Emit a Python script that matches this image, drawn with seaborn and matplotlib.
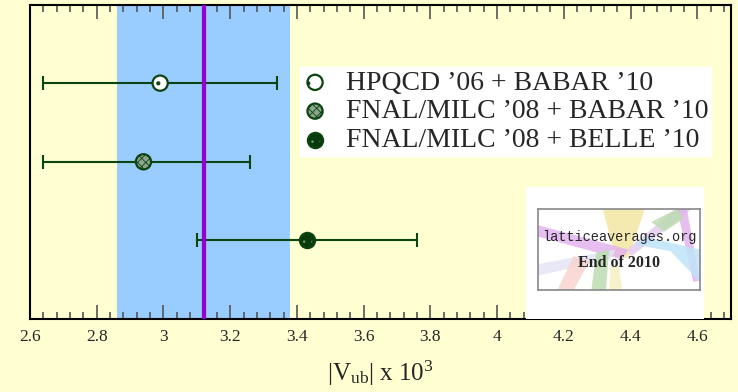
import numpy as np
import seaborn as sns
import matplotlib.pyplot as plt
from matplotlib.patches import Rectangle, Polygon
from matplotlib.ticker import MultipleLocator, FormatStrFormatter
from matplotlib.legend_handler import HandlerTuple

# data
labels = ["HPQCD \u201906 + BABAR \u201910",
          "FNAL/MILC \u201908 + BABAR \u201910",
          "FNAL/MILC \u201908 + BELLE \u201910"]
vub = [2.99, 2.94, 3.43]
err_lo = [0.35, 0.30, 0.33]
err_hi = [0.35, 0.32, 0.33]
rows = [3, 2, 1]
avg = 3.12
avg_lo = 2.86
avg_hi = 3.38

bg = '#ffffd2'
green = '#0b4410'

sns.set_theme(style='ticks', rc={'axes.facecolor': bg, 'figure.facecolor': bg,
                                 'axes.edgecolor': 'black', 'axes.linewidth': 1.5,
                                 'hatch.linewidth': 0.6})
plt.rcParams['font.family'] = ['Liberation Serif', 'DejaVu Serif']
plt.rcParams['mathtext.fontset'] = 'custom'
plt.rcParams['mathtext.rm'] = 'Liberation Serif'
plt.rcParams['mathtext.it'] = 'Liberation Serif:italic'

fig = plt.figure(figsize=(7.38, 3.92), dpi=100)
ax = fig.add_axes([0.0407, 0.186, 0.9493, 0.8025])

ax.axvspan(avg_lo, avg_hi, color='#99ccff', lw=0, zorder=0)
ax.errorbar(vub, rows, xerr=[err_lo, err_hi], fmt='none', ecolor=green,
            elinewidth=1.5, capsize=4.7, capthick=1.5, zorder=2)
ax.axvline(avg, color='#9400d3', lw=3, zorder=3)

styles = [dict(color='white', hatch='.'),
          dict(color='#8ea48e', hatch='xxxx'),
          dict(color='#0a3a0c', hatch=None)]
handles = []
for i in range(3):
    sns.scatterplot(x=[vub[i]], y=[rows[i]], ax=ax, s=120, marker='o',
                    color=styles[i]['color'], edgecolor=green, linewidth=1.6,
                    hatch=styles[i]['hatch'], zorder=4, legend=False)
    handles.append(ax.collections[-1])
# light dots on the dark marker
sns.scatterplot(x=[vub[2]], y=[rows[2]], ax=ax, s=60, marker='o',
                facecolor='none', edgecolor='#6f9a6f', linewidth=0,
                hatch='..', zorder=5, legend=False)
handles[2] = (handles[2], ax.collections[-1])

ax.set_xlim(2.6, 4.7)
ax.set_ylim(0, 4)
ax.set_yticks([])
ax.xaxis.set_major_locator(MultipleLocator(0.2))
ax.xaxis.set_minor_locator(MultipleLocator(0.04))
ax.xaxis.set_major_formatter(FormatStrFormatter('%g'))
ax.tick_params(axis='x', which='both', direction='in', top=True, bottom=True,
               color='#555555', labelsize=12.5, pad=7)
ax.tick_params(axis='x', which='major', length=10, width=1.2)
ax.tick_params(axis='x', which='minor', length=5, width=1.2)
for s in ax.spines.values():
    s.set_visible(True)
    s.set_linewidth(1.5)
ax.set_xlabel(r'|V$_{\rm ub}$| x 10$^3$', fontsize=18, labelpad=10)

leg = ax.legend(handles, labels, loc='upper left', bbox_to_anchor=(0.385, 0.80),
                fontsize=20, frameon=True, fancybox=False, framealpha=1,
                edgecolor='white', facecolor='white', borderpad=0.1,
                labelspacing=0.12, handlelength=0.9, handletextpad=0.65,
                borderaxespad=0, scatterpoints=1,
                handler_map={tuple: HandlerTuple(ndivide=1, pad=0)})
leg.set_zorder(6)

# latticeaverages logo
ax.add_patch(Rectangle((0.708, 0.0), 0.254, 0.42, transform=ax.transAxes,
                       facecolor='white', edgecolor='none', zorder=6))
lg = ax.inset_axes([0.725, 0.092, 0.231, 0.258], zorder=7)
lg.set_facecolor('white')
lg.set_xlim(0, 1)
lg.set_ylim(0, 1)
lg.set_xticks([])
lg.set_yticks([])
for s in lg.spines.values():
    s.set_color('#888888')
    s.set_linewidth(1.2)
shapes = [
    ([(0.40, 1.0), (0.66, 1.0), (0.56, 0.40), (0.48, 0.40)], '#f3e6a0'),
    ([(0.0, 0.80), (0.0, 0.66), (0.52, 0.38), (0.56, 0.50)], '#e3b3ee'),
    ([(0.55, 0.50), (0.85, 1.0), (0.95, 1.0), (0.58, 0.42)], '#e6ccf2'),
    ([(0.86, 1.0), (0.92, 1.0), (1.0, 0.12), (0.96, 0.10)], '#e3b3ee'),
    ([(0.0, 0.32), (0.0, 0.18), (0.45, 0.38), (0.48, 0.50)], '#e4e4f6'),
    ([(0.66, 0.66), (1.0, 0.50), (1.0, 0.10), (0.82, 0.48), (0.60, 0.56)], '#bfe4f8'),
    ([(0.70, 0.84), (0.86, 1.0), (0.90, 0.88), (0.78, 0.72)], '#bcdcb0'),
    ([(0.36, 0.46), (0.44, 0.50), (0.42, 0.0), (0.33, 0.0)], '#bcdcb0'),
    ([(0.12, 0.0), (0.22, 0.0), (0.32, 0.36), (0.22, 0.42)], '#f8d4d0'),
    ([(0.44, 0.0), (0.52, 0.0), (0.50, 0.30), (0.45, 0.30)], '#f6f0c0'),
]
for pts, c in shapes:
    lg.add_patch(Polygon(pts, closed=True, facecolor=c, edgecolor='none', alpha=0.85))
lg.text(0.5, 0.66, 'latticeaverages.org', ha='center', va='center', fontsize=9.8,
        family=['Liberation Mono', 'DejaVu Sans Mono'])
lg.text(0.5, 0.33, 'End of 2010', ha='center', va='center', fontsize=11.5,
        fontweight='bold')

fig.savefig('out.png', dpi=100, facecolor=bg)
